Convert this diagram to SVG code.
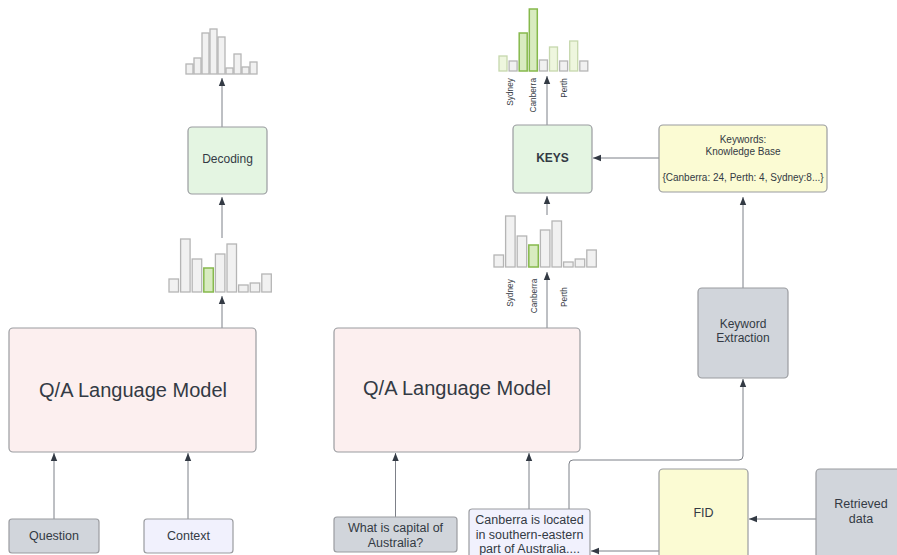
<svg xmlns="http://www.w3.org/2000/svg" width="897" height="555" viewBox="0 0 897 555">
<defs>
<marker id="ah" viewBox="0 0 8 8" refX="8" refY="4" markerWidth="8" markerHeight="8" markerUnits="userSpaceOnUse" orient="auto">
<path d="M0,0.8 L8,4 L0,7.2 Z" fill="#333a44"/>
</marker>
</defs>
<style>
text{font-family:"Liberation Sans",Arial,sans-serif;fill:#333a44}
.box{stroke:#9a9ca0;stroke-width:1.2}
.lm{fill:#fcefef}
.grn{fill:#e4f5e2}
.gry{fill:#d1d5db}
.lav{fill:#f1f1fd}
.yel{fill:#fbfbd3}
.b{fill:#f1f1f1;stroke:#b5b5b5;stroke-width:1.3}
.bg{fill:#d8ebc0;stroke:#86b94c;stroke-width:1.5}
.bl{fill:#eef6de;stroke:#c6d8ad;stroke-width:1.3}
.c{fill:none;stroke:#7d8088;stroke-width:1;marker-end:url(#ah)}
.lbl{font-size:8.3px}
.m{font-size:12px;text-anchor:middle}
.s{font-size:12.5px;text-anchor:middle}
.k{font-size:10px;text-anchor:middle}
.big{font-size:20px;text-anchor:middle}
</style>
<rect width="897" height="555" fill="#ffffff"/>

<g id="connectors">
<path class="c" d="M222,127 V78"/>
<path class="c" d="M222,238 V197"/>
<path class="c" d="M222,328 V296"/>
<path class="c" d="M54,519 V453"/>
<path class="c" d="M188,519 V453"/>
<path class="c" d="M547,125 V76"/>
<path class="c" d="M547,215 V196"/>
<path class="c" d="M547,328 V272"/>
<path class="c" d="M659,158 H593"/>
<path class="c" d="M743,288 V197"/>
<path class="c" d="M395.5,517 V453"/>
<path class="c" d="M529,509 V453"/>
<path class="c" d="M569,509 V464 Q569,460 573,460 H739 Q743,460 743,456 V379"/>
<path class="c" d="M816,519 H749"/>
<path class="c" d="M659,551 H591"/>
</g>

<g id="hist-left-top">
<rect class="b" x="186" y="64" width="7" height="10"/>
<rect class="b" x="194" y="58" width="7" height="16"/>
<rect class="b" x="202" y="33" width="7" height="41"/>
<rect class="b" x="210" y="29" width="7" height="45"/>
<rect class="b" x="218" y="37" width="7" height="37"/>
<rect class="b" x="226" y="68" width="7" height="6"/>
<rect class="b" x="234" y="54" width="7" height="20"/>
<rect class="b" x="242" y="67" width="7" height="7"/>
<rect class="b" x="250" y="62" width="7" height="12"/>
</g>

<g id="decoding">
<rect class="box grn" x="188" y="127" width="79" height="67" rx="4"/>
<text class="m" x="227.5" y="162.5">Decoding</text>
</g>

<g id="hist-left-mid">
<rect class="b" x="169" y="279" width="9.5" height="13"/>
<rect class="b" x="180.6" y="239" width="9.5" height="53"/>
<rect class="b" x="192.2" y="259" width="9.5" height="33"/>
<rect class="bg" x="203.8" y="268" width="9.5" height="24"/>
<rect class="b" x="215.4" y="254" width="9.5" height="38"/>
<rect class="b" x="227" y="244" width="9.5" height="48"/>
<rect class="b" x="238.6" y="285" width="9.5" height="7"/>
<rect class="b" x="250.2" y="283" width="9.5" height="9"/>
<rect class="b" x="261.8" y="274" width="9.5" height="18"/>
</g>

<g id="lm-left">
<rect class="box lm" x="9" y="328" width="247" height="124" rx="4"/>
<text class="big" x="133" y="397">Q/A Language Model</text>
</g>

<g id="question">
<rect class="box gry" x="9" y="519" width="90" height="34" rx="3"/>
<text class="s" x="54" y="540">Question</text>
</g>

<g id="context">
<rect class="box lav" x="144" y="519" width="89" height="34" rx="3"/>
<text class="s" x="188.5" y="540">Context</text>
</g>

<g id="hist-right-top">
<rect class="bl" x="499" y="56" width="8" height="15"/>
<rect class="b" x="509.1" y="61" width="8" height="10"/>
<rect class="bg" x="519.2" y="33" width="8" height="38"/>
<rect class="bg" x="529.3" y="9" width="8" height="62"/>
<rect class="b" x="539.4" y="60" width="8" height="11"/>
<rect class="bl" x="549.5" y="47" width="8" height="24"/>
<rect class="b" x="559.6" y="61" width="8" height="10"/>
<rect class="bl" x="569.7" y="41" width="8" height="30"/>
<rect class="b" x="579.8" y="61" width="8" height="10"/>
<text class="lbl" text-anchor="end" transform="translate(513,78) rotate(-90)">Sydney</text>
<text class="lbl" text-anchor="end" transform="translate(536,78) rotate(-90)">Canberra</text>
<text class="lbl" text-anchor="end" transform="translate(567,78) rotate(-90)">Perth</text>
</g>

<g id="keys">
<rect class="box grn" x="513" y="125" width="79" height="68" rx="4"/>
<text class="m" x="552.5" y="161.5" font-weight="bold">KEYS</text>
</g>

<g id="hist-right-mid">
<rect class="b" x="494" y="255" width="9.5" height="12"/>
<rect class="b" x="505.6" y="216" width="9.5" height="51"/>
<rect class="b" x="517.2" y="236" width="9.5" height="31"/>
<rect class="bg" x="528.8" y="245" width="9.5" height="22"/>
<rect class="b" x="540.4" y="230" width="9.5" height="37"/>
<rect class="b" x="552" y="221" width="9.5" height="46"/>
<rect class="b" x="563.6" y="262" width="9.5" height="5"/>
<rect class="b" x="575.2" y="259" width="9.5" height="8"/>
<rect class="b" x="586.8" y="250" width="9.5" height="17"/>
<text class="lbl" text-anchor="middle" transform="translate(513,293) rotate(-90)">Sydney</text>
<text class="lbl" text-anchor="middle" transform="translate(537,296) rotate(-90)">Canberra</text>
<text class="lbl" text-anchor="middle" transform="translate(567,297) rotate(-90)">Perth</text>
</g>

<g id="keywords-kb">
<rect class="box yel" x="659" y="125" width="168" height="67" rx="4"/>
<text class="k" x="743" y="142.5">Keywords:</text>
<text class="k" x="743" y="154.5">Knowledge Base</text>
<text class="k" x="743" y="180.5">{Canberra: 24, Perth: 4, Sydney:8...}</text>
</g>

<g id="keyword-extraction">
<rect class="box gry" x="698" y="288" width="90" height="90" rx="4"/>
<text class="m" x="743" y="328">Keyword</text>
<text class="m" x="743" y="342">Extraction</text>
</g>

<g id="lm-right">
<rect class="box lm" x="334" y="328" width="246" height="124" rx="4"/>
<text class="big" x="457" y="395">Q/A Language Model</text>
</g>

<g id="what-question">
<rect class="box gry" x="334" y="517" width="123" height="35" rx="3"/>
<text class="s" x="395.5" y="531.5">What is capital of</text>
<text class="s" x="395.5" y="546.5">Australia?</text>
</g>

<g id="canberra-context">
<rect class="box lav" x="469" y="509" width="121" height="52" rx="3"/>
<text class="s" x="529.5" y="523.5">Canberra is located</text>
<text class="s" x="529.5" y="538.5">in southern-eastern</text>
<text class="s" x="529.5" y="553">part of Australia....</text>
</g>

<g id="fid">
<rect class="box yel" x="659" y="469" width="89" height="95" rx="4"/>
<text class="s" x="703.5" y="516.5">FID</text>
</g>

<g id="retrieved-data">
<rect class="box gry" x="816" y="469" width="90" height="95" rx="4"/>
<text class="s" x="861" y="508">Retrieved</text>
<text class="s" x="861" y="523">data</text>
</g>
</svg>
